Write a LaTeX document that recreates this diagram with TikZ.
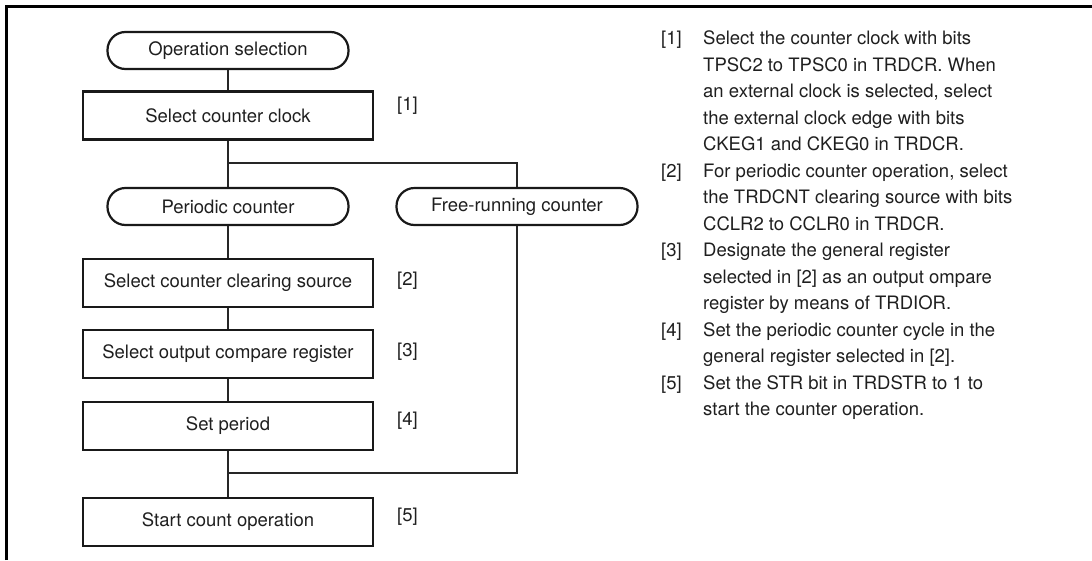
\documentclass[tikz,border=0pt]{standalone}
\usepackage{fontspec}
\setmainfont{TeX Gyre Heros}
\begin{document}
\begin{tikzpicture}[x=1pt,y=-1pt,
  every node/.style={font=\fontsize{18.5}{22}\selectfont, inner sep=0pt, text=black!88},
  proc/.style={draw=black!90, line width=2.2pt, minimum width=290pt, minimum height=48pt},
  term/.style={draw=black!90, line width=2.2pt, rounded corners=18pt, minimum width=241pt, minimum height=37pt},
  link/.style={draw=black!85, line width=1.2pt},
  tag/.style={anchor=west},
  para/.style={anchor=base west}]
\useasboundingbox (0,0) rectangle (1092,560);
% frame
\draw[line width=2.6pt] (6.2,560) -- (6.2,6.3) -- (1092,6.3);

% flowchart
\node[term] (op) at (228,50.5) {Operation selection};
\node[proc] (clk) at (228,115.5) {Select counter clock};
\node[term] (per) at (228,206.5) {Periodic counter};
\node[term] (free) at (517,206.5) {Free-running counter};
\node[proc] (clr) at (228,283) {Select counter clearing source};
\node[proc] (cmp) at (228,354) {Select output compare register};
\node[proc] (prd) at (228,426) {Set period};
\node[proc] (start) at (228,522) {Start count operation};

\coordinate (split) at (228,163);
\coordinate (merge) at (228,473);

\draw[link] (op.south) -- (clk.north);
\draw[link] (clk.south) -- (per.north);
\draw[link] (split) -| (free.north);
\draw[link] (per.south) -- (clr.north);
\draw[link] (clr.south) -- (cmp.north);
\draw[link] (cmp.south) -- (prd.north);
\draw[link] (prd.south) -- (start.north);
\draw[link] (free.south) |- (merge);

% step tags
\node[tag] (s1) at (397,106) {[1]};
\node[tag] (s2) at (397,281) {[2]};
\node[tag] (s3) at (397,352) {[3]};
\node[tag] (s4) at (397,421) {[4]};
\node[tag] (s5) at (397,517) {[5]};

% notes
\node[para] (n1) at (661,44.5) {[1]};
\node[para] (l0) at (703,44.5) {Select the counter clock with bits};
\node[para] (l1) at (703,71) {TPSC2 to TPSC0 in TRDCR. When};
\node[para] (l2) at (703,97.5) {an external clock is selected, select};
\node[para] (l3) at (703,124) {the external clock edge with bits};
\node[para] (l4) at (703,150.5) {CKEG1 and CKEG0 in TRDCR.};
\node[para] (n2) at (661,177) {[2]};
\node[para] (l5) at (703,177) {For periodic counter operation, select};
\node[para] (l6) at (703,203.5) {the TRDCNT clearing source with bits};
\node[para] (l7) at (703,230) {CCLR2 to CCLR0 in TRDCR.};
\node[para] (n3) at (661,256.5) {[3]};
\node[para] (l8) at (703,256.5) {Designate the general register};
\node[para] (l9) at (703,283) {selected in [2] as an output ompare};
\node[para] (l10) at (703,309.5) {register by means of TRDIOR.};
\node[para] (n4) at (661,336) {[4]};
\node[para] (l11) at (703,336) {Set the periodic counter cycle in the};
\node[para] (l12) at (703,362.5) {general register selected in [2].};
\node[para] (n5) at (661,389) {[5]};
\node[para] (l13) at (703,389) {Set the STR bit in TRDSTR to 1 to};
\node[para] (l14) at (703,415.5) {start the counter operation.};
\end{tikzpicture}
\end{document}
